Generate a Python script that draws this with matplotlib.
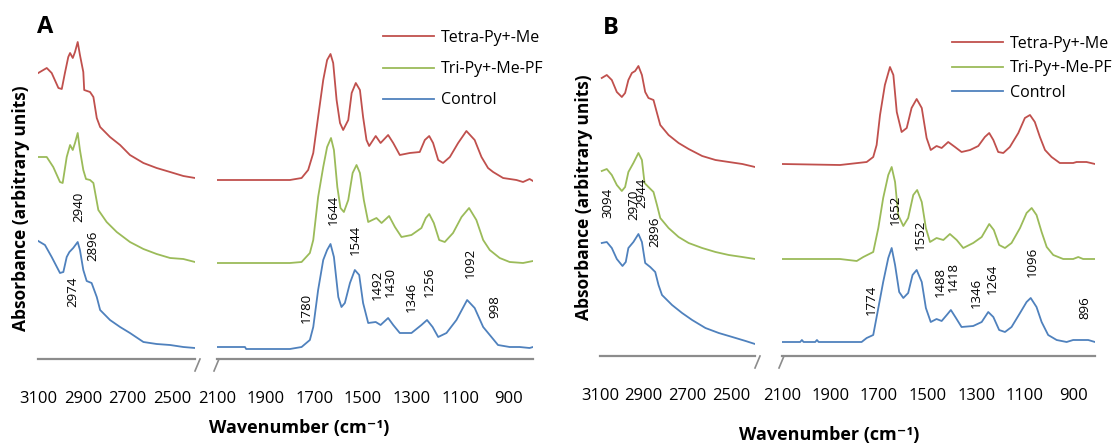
import matplotlib
matplotlib.use("Agg")
import matplotlib.pyplot as plt
from matplotlib.lines import Line2D

plt.rcParams['font.family'] = ['Open Sans', 'DejaVu Sans']

# ---- data (absorbance in arbitrary units, offset stacked) ----
series_names = ["Tetra-Py+-Me", "Tri-Py+-Me-PF", "Control"]
series_colors = ["#C0504D", "#9BBB59", "#4F81BD"]

# panel A
a_red_wn = [3099, 3061, 3039, 3009, 2994, 2980, 2965, 2957, 2945, 2935, 2923, 2913, 2898, 2894,
            2868, 2853, 2838, 2823, 2779, 2734, 2690, 2630, 2571, 2511, 2452, 2400,
            2100, 1800, 1752, 1725, 1704, 1684, 1663, 1647, 1633, 1622, 1608, 1594, 1581, 1560,
            1546, 1529, 1512, 1499, 1485, 1474, 1447, 1427, 1396, 1375, 1348, 1307, 1266, 1245,
            1227, 1211, 1190, 1170, 1142, 1108, 1074, 1040, 1012, 985, 964, 923, 868, 841, 814, 800]
a_red_ab = [2.86, 2.91, 2.86, 2.71, 2.70, 2.86, 3.02, 3.06, 3.01, 3.07, 3.17, 3.04, 2.87, 2.69,
            2.67, 2.62, 2.41, 2.32, 2.22, 2.14, 2.04, 1.96, 1.91, 1.87, 1.83, 1.81,
            1.79, 1.79, 1.81, 1.89, 2.06, 2.42, 2.79, 2.99, 3.05, 2.96, 2.59, 2.36, 2.29, 2.39,
            2.66, 2.76, 2.69, 2.42, 2.19, 2.13, 2.23, 2.16, 2.24, 2.16, 2.04, 2.06, 2.07, 2.19,
            2.23, 2.16, 1.99, 1.96, 2.02, 2.16, 2.28, 2.19, 2.02, 1.91, 1.87, 1.81, 1.79, 1.77, 1.80, 1.78]

a_green_wn = [3099, 3061, 3032, 3002, 2990, 2972, 2957, 2945, 2935, 2923, 2913, 2898, 2886, 2868,
              2853, 2831, 2794, 2749, 2690, 2630, 2571, 2511, 2452, 2400,
              2100, 1800, 1752, 1718, 1704, 1684, 1663, 1647, 1631, 1619, 1605, 1592, 1578, 1560,
              1542, 1526, 1512, 1496, 1478, 1444, 1423, 1392, 1368, 1341, 1300, 1259, 1241, 1227,
              1208, 1186, 1163, 1129, 1094, 1063, 1033, 1005, 978, 937, 896, 841, 800]
a_green_ab = [2.02, 2.02, 1.92, 1.77, 1.76, 2.02, 2.14, 2.09, 2.16, 2.26, 2.09, 1.89, 1.80, 1.79,
              1.76, 1.49, 1.37, 1.27, 1.17, 1.10, 1.05, 1.01, 1.00, 0.97,
              0.96, 0.96, 0.97, 1.06, 1.19, 1.62, 1.92, 2.12, 2.21, 2.09, 1.72, 1.51, 1.47, 1.59,
              1.86, 1.94, 1.86, 1.59, 1.37, 1.41, 1.36, 1.43, 1.32, 1.22, 1.24, 1.31, 1.41, 1.45,
              1.36, 1.19, 1.17, 1.26, 1.42, 1.51, 1.39, 1.19, 1.09, 1.01, 0.97, 0.96, 0.98]

a_blue_wn = [3099, 3069, 3039, 3002, 2987, 2972, 2960, 2943, 2923, 2913, 2898, 2883, 2861, 2838,
             2823, 2779, 2734, 2690, 2630, 2571, 2511, 2452, 2400,
             2100, 1985, 1980, 1800, 1752, 1718, 1704, 1684, 1663, 1647, 1633, 1619, 1601, 1588,
             1574, 1553, 1533, 1515, 1499, 1478, 1447, 1427, 1396, 1375, 1348, 1300, 1259, 1236,
             1213, 1190, 1156, 1115, 1071, 1040, 1005, 971, 944, 896, 855, 814, 800]
a_blue_ab = [1.18, 1.14, 1.02, 0.86, 0.87, 1.02, 1.07, 1.11, 1.17, 1.09, 0.89, 0.78, 0.76, 0.62,
             0.49, 0.39, 0.32, 0.26, 0.17, 0.15, 0.14, 0.12, 0.11,
             0.12, 0.12, 0.10, 0.10, 0.12, 0.19, 0.32, 0.69, 0.99, 1.09, 1.15, 1.02, 0.62, 0.52,
             0.56, 0.76, 0.89, 0.84, 0.56, 0.36, 0.37, 0.34, 0.41, 0.34, 0.26, 0.26, 0.34, 0.39,
             0.32, 0.22, 0.26, 0.39, 0.59, 0.51, 0.32, 0.22, 0.14, 0.12, 0.12, 0.11, 0.12]

a_peak_labels = ["2940", "2896", "2974", "1644", "1544", "1780", "1492", "1430", "1346", "1256", "1092", "998"]
a_peak_wn = [2920, 2856, 2945, 1622, 1530, 1731, 1441, 1389, 1300, 1225, 1060, 955]
a_peak_ab = [1.52, 1.13, 0.67, 1.49, 1.19, 0.51, 0.74, 0.77, 0.62, 0.77, 0.96, 0.52]

# panel B
b_red_wn = [3092, 3069, 3046, 3023, 3000, 2985, 2970, 2954, 2939, 2924, 2908, 2893, 2878, 2855,
            2839, 2824, 2786, 2740, 2694, 2632, 2571, 2510, 2448, 2390,
            2100, 1861, 1751, 1724, 1710, 1696, 1676, 1655, 1641, 1627, 1607, 1586, 1566, 1545,
            1524, 1504, 1487, 1463, 1442, 1415, 1387, 1360, 1325, 1291, 1264, 1246, 1229, 1209,
            1188, 1161, 1126, 1099, 1078, 1058, 1037, 1016, 989, 955, 900, 886, 845, 810]
b_red_ab = [2.78, 2.81, 2.76, 2.64, 2.59, 2.63, 2.76, 2.83, 2.85, 2.90, 2.81, 2.64, 2.58, 2.56,
            2.43, 2.31, 2.21, 2.13, 2.07, 2.00, 1.96, 1.94, 1.92, 1.89,
            1.92, 1.91, 1.94, 1.99, 2.11, 2.41, 2.71, 2.89, 2.81, 2.44, 2.24, 2.28, 2.48, 2.57,
            2.48, 2.18, 2.06, 2.10, 2.08, 2.14, 2.09, 2.04, 2.06, 2.10, 2.19, 2.23, 2.16, 2.04,
            2.03, 2.09, 2.23, 2.38, 2.41, 2.34, 2.19, 2.06, 1.99, 1.93, 1.93, 1.94, 1.94, 1.92]

b_green_wn = [3092, 3069, 3046, 3023, 3000, 2985, 2970, 2947, 2924, 2908, 2896, 2878, 2855, 2839,
              2824, 2786, 2740, 2694, 2632, 2571, 2510, 2448, 2390,
              2100, 1861, 1792, 1765, 1724, 1703, 1683, 1662, 1648, 1634, 1621, 1600, 1580, 1559,
              1543, 1524, 1507, 1490, 1463, 1435, 1408, 1380, 1353, 1312, 1277, 1246, 1227, 1205,
              1181, 1154, 1119, 1092, 1071, 1051, 1030, 1009, 982, 941, 900, 879, 859, 810]
b_green_ab = [1.85, 1.87, 1.81, 1.71, 1.65, 1.69, 1.84, 1.93, 2.03, 1.96, 1.73, 1.69, 1.64, 1.51,
              1.38, 1.28, 1.19, 1.13, 1.08, 1.04, 1.01, 0.99, 0.97,
              0.97, 0.97, 0.95, 0.99, 1.04, 1.28, 1.58, 1.81, 1.89, 1.74, 1.41, 1.30, 1.38, 1.61,
              1.66, 1.54, 1.28, 1.14, 1.18, 1.16, 1.22, 1.16, 1.08, 1.13, 1.19, 1.32, 1.26, 1.11,
              1.08, 1.13, 1.28, 1.43, 1.48, 1.41, 1.24, 1.09, 1.01, 0.97, 0.97, 0.99, 0.97, 0.97]

b_blue_wn = [3092, 3069, 3046, 3023, 2997, 2982, 2970, 2947, 2924, 2908, 2893, 2870, 2847, 2832,
             2816, 2770, 2724, 2678, 2617, 2556, 2494, 2433, 2390,
             2100, 2025, 2018, 2011, 1963, 1956, 1949, 1861, 1772, 1751, 1724, 1703, 1683, 1662,
             1648, 1634, 1617, 1600, 1580, 1562, 1545, 1524, 1507, 1487, 1463, 1442, 1421, 1404,
             1383, 1360, 1312, 1277, 1250, 1229, 1205, 1181, 1154, 1119, 1092, 1075, 1051, 1030,
             1003, 968, 927, 900, 838, 810]
b_blue_ab = [1.13, 1.14, 1.08, 0.97, 0.90, 0.94, 1.08, 1.14, 1.22, 1.14, 0.93, 0.89, 0.84, 0.71,
             0.61, 0.51, 0.43, 0.36, 0.28, 0.23, 0.19, 0.15, 0.12,
             0.14, 0.14, 0.16, 0.14, 0.14, 0.16, 0.14, 0.14, 0.14, 0.18, 0.21, 0.48, 0.74, 0.98,
             1.08, 0.91, 0.64, 0.58, 0.63, 0.81, 0.86, 0.74, 0.48, 0.34, 0.37, 0.35, 0.41, 0.46,
             0.38, 0.29, 0.30, 0.34, 0.44, 0.39, 0.26, 0.24, 0.29, 0.43, 0.54, 0.58, 0.49, 0.34,
             0.21, 0.16, 0.14, 0.16, 0.16, 0.14]

b_peak_labels = ["3094", "2970", "2944", "2896", "1652", "1552", "1774", "1488", "1418", "1346", "1264", "1096", "896"]
b_peak_wn = [3065, 2947, 2908, 2847, 1634, 1531, 1730, 1449, 1394, 1298, 1232, 1067, 852]
b_peak_ab = [1.53, 1.51, 1.63, 1.24, 1.46, 1.21, 0.56, 0.74, 0.79, 0.63, 0.77, 0.94, 0.48]

hi_ticks = [3100, 2900, 2700, 2500]
lo_ticks = [2100, 1900, 1700, 1500, 1300, 1100, 900]

W, H = 1120, 447
fig = plt.figure(figsize=(W / 100, H / 100), dpi=100)


def fx(px):
    return px / W


def fy(py):
    return 1 - py / H


def make_axes(x0, x1, axis_y, xlim):
    ax = fig.add_axes([fx(x0), fy(axis_y), fx(x1 - x0), axis_y / H])
    ax.set_xlim(*xlim)
    ax.set_ylim(0, axis_y / 100)
    ax.patch.set_alpha(0)
    for s in ["left", "right", "top"]:
        ax.spines[s].set_visible(False)
    ax.spines["bottom"].set_color("#8c8c8c")
    ax.spines["bottom"].set_linewidth(1.6)
    ax.set_yticks([])
    ax.tick_params(axis="x", length=0, labelsize=12, pad=23)
    return ax


def slash(px, py):
    fig.add_artist(Line2D([fx(px), fx(px + 5)], [fy(py + 12), fy(py)], color="#8c8c8c", lw=1.2))


def draw_panel(letter, x_hi, x_lo, axis_y, hi_lim, lo_lim, data, peaks, leg_xy, leg_space,
               ylab_xy, xlab_xy, letter_xy):
    ax_hi = make_axes(x_hi[0], x_hi[1], axis_y, hi_lim)
    ax_lo = make_axes(x_lo[0], x_lo[1], axis_y, lo_lim)
    ax_hi.set_xticks(hi_ticks)
    ax_lo.set_xticks(lo_ticks)
    handles = []
    for (wn, ab), name, col in zip(data, series_names, series_colors):
        ax_hi.plot(wn, ab, color=col, lw=1.3)
        h, = ax_lo.plot(wn, ab, color=col, lw=1.3, label=name)
        handles.append(h)
    labels, pw, pa = peaks
    for lab, w, a in zip(labels, pw, pa):
        ax = ax_hi if w > 2250 else ax_lo
        ax.text(w, a, lab, rotation=90, ha="center", va="center", fontsize=9.5)
    ax_lo.legend(handles=handles, loc="upper left", bbox_to_anchor=(fx(leg_xy[0]), fy(leg_xy[1])),
                 bbox_transform=fig.transFigure, frameon=False, fontsize=11.5, borderpad=0,
                 borderaxespad=0, handlelength=3.2, handletextpad=0.45, labelspacing=leg_space)
    slash(x_hi[1], axis_y)
    slash(x_lo[0] - 3, axis_y)
    fig.text(fx(ylab_xy[0]), fy(ylab_xy[1]), "Absorbance (arbitrary units)", rotation=90,
             ha="center", va="center", fontsize=12.5, fontweight="bold")
    fig.text(fx(xlab_xy[0]), fy(xlab_xy[1]), "Wavenumber (cm\u207b\u00b9)", ha="center",
             va="center", fontsize=13, fontweight="bold")
    fig.text(fx(letter_xy[0]), fy(letter_xy[1]), letter, ha="center", va="center",
             fontsize=17, fontweight="bold")


draw_panel("A", (38, 195), (217, 533), 359, (3100, 2400), (2100, 800),
           [(a_red_wn, a_red_ab), (a_green_wn, a_green_ab), (a_blue_wn, a_blue_ab)],
           (a_peak_labels, a_peak_wn, a_peak_ab), (383, 30), 0.95, (21, 208), (299, 428), (45, 27))
draw_panel("B", (600, 755), (782, 1095), 356, (3100, 2390), (2100, 810),
           [(b_red_wn, b_red_ab), (b_green_wn, b_green_ab), (b_blue_wn, b_blue_ab)],
           (b_peak_labels, b_peak_wn, b_peak_ab), (952, 36), 0.52, (584, 197), (829, 435), (611, 28))

fig.savefig("out.png", dpi=100)
